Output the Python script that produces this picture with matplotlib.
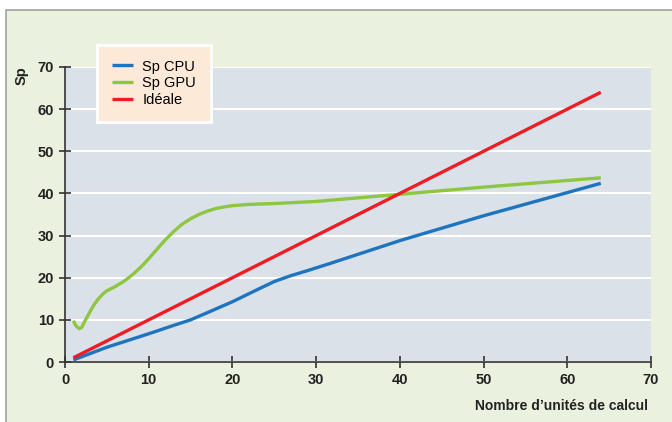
import matplotlib.pyplot as plt
from matplotlib.patches import Rectangle

plt.rcParams['font.family'] = ['Liberation Sans', 'DejaVu Sans']

# Speed-up data
cpu_x = [1, 5, 10, 13, 15, 17, 20, 23, 25, 27, 29, 32, 40, 50, 64]
cpu_y = [0.5, 3.5, 6.7, 8.7, 10.0, 11.7, 14.3, 17.2, 19.1, 20.5, 21.7, 23.6, 28.8, 34.7, 42.4]

gpu_x = [1, 1.3, 1.7, 2.0, 2.4, 3, 3.5, 4, 4.5, 5, 6, 7, 8, 9, 10, 11, 12, 13, 14, 15,
         16, 17, 18, 19, 20, 22, 25, 30, 40, 50, 64]
gpu_y = [9.8, 8.6, 7.9, 8.2, 9.8, 12.0, 13.7, 15.0, 16.1, 16.9, 17.9, 19.1, 20.6, 22.4, 24.5,
         26.8, 29.0, 31.0, 32.7, 34.0, 35.0, 35.8, 36.4, 36.8, 37.1, 37.4, 37.6, 38.1, 39.8, 41.5, 43.7]

ideal_x = [1, 64]
ideal_y = [1, 64]

ticks = [0, 10, 20, 30, 40, 50, 60, 70]

fig = plt.figure(figsize=(6.72, 4.22), dpi=100, facecolor='white')

# green panel behind the chart
fig.patches.append(Rectangle((6 / 672, -0.01), 1.0, 1 - 10 / 422 + 0.01, transform=fig.transFigure,
                             facecolor='#eaf2df', edgecolor='#a0a4a0', linewidth=1.2, zorder=-10))

ax = fig.add_axes([65 / 672, 1 - 362 / 422, (651 - 65) / 672, (362 - 67) / 422])
ax.set_facecolor('#dbe1e8')

style = dict(linewidth=2.4, solid_capstyle='butt', solid_joinstyle='round')
ax.plot(cpu_x, cpu_y, color='#1f74bf', label='Sp CPU', **style)
ax.plot(gpu_x, gpu_y, color='#8dc641', label='Sp GPU', **style)
ax.plot(ideal_x, ideal_y, color='#ee1c25', label='Idéale', **style)

ax.set_xlim(0, 70)
ax.set_ylim(0, 70)
ax.set_xticks(ticks)
ax.set_yticks(ticks)
ax.grid(axis='y', color='white', linewidth=1.5)
ax.set_axisbelow(True)

for s in ['top', 'right']:
    ax.spines[s].set_visible(False)
for s in ['left', 'bottom']:
    ax.spines[s].set_color('#333333')
    ax.spines[s].set_linewidth(1.2)

ax.tick_params(direction='inout', length=9, width=1.2, color='#333333',
               labelsize=10.5, labelcolor='#222222')
for lab in ax.get_xticklabels() + ax.get_yticklabels():
    lab.set_fontweight('bold')

fig.text(22 / 672, 1 - 76 / 422, 'Sp', rotation=90, ha='center', va='center',
         fontsize=10.5, fontweight='bold', color='#222222')
fig.text(648 / 672, 1 - 406 / 422, 'Nombre d\u2019unités de calcul', ha='right', va='center',
         fontsize=10, fontweight='bold', color='#222222')

leg = fig.legend(loc='upper left', bbox_to_anchor=(97 / 672, 1 - 45 / 422), fontsize=10.5,
                 frameon=True, fancybox=False, handlelength=1.5, handletextpad=0.6,
                 labelspacing=0.2, borderpad=1.0, borderaxespad=0)
leg.get_frame().set_facecolor('#fde9d8')
leg.get_frame().set_edgecolor('white')
leg.get_frame().set_linewidth(2)
leg.get_frame().set_alpha(1)

plt.savefig('out.png', dpi=100, facecolor=fig.get_facecolor())
